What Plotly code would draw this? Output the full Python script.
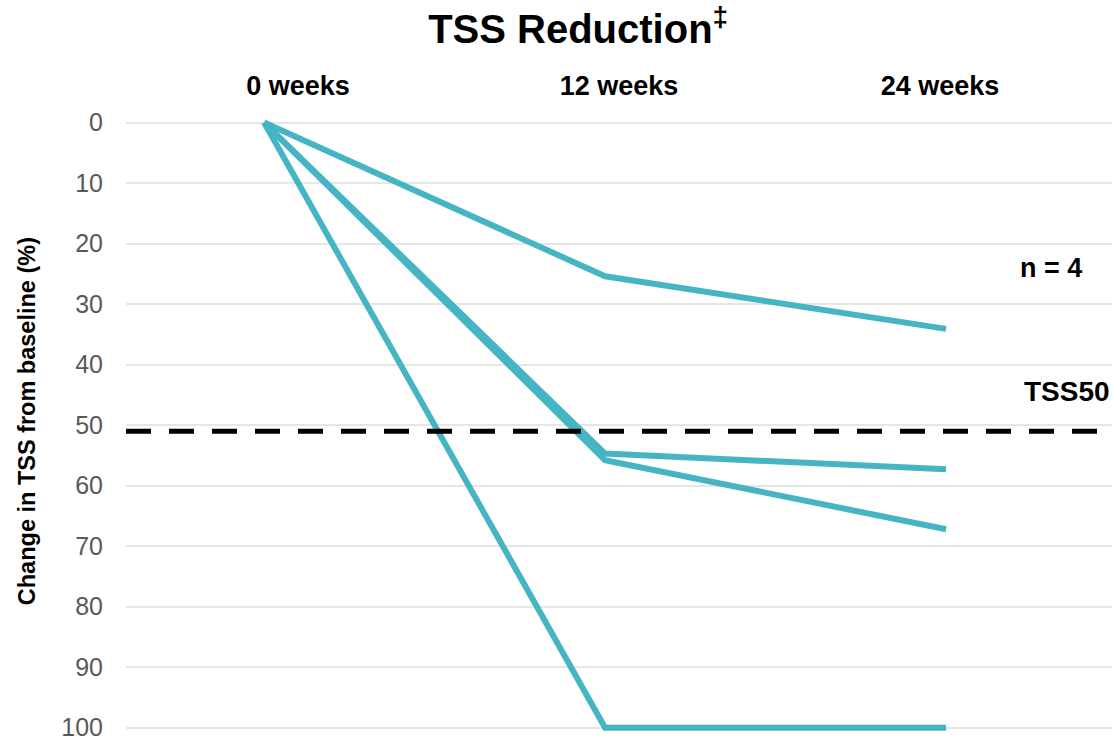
import plotly.graph_objects as go

# Study visits (weeks) and per-patient TSS change from baseline (%)
weeks = [0, 12, 24]
week_labels = ["0 weeks", "12 weeks", "24 weeks"]
patient_1 = [0, 25.4, 34.1]
patient_2 = [0, 54.7, 57.3]
patient_3 = [0, 55.8, 67.2]
patient_4 = [0, 100, 100]
patients = [patient_1, patient_2, patient_3, patient_4]

y_ticks = [0, 10, 20, 30, 40, 50, 60, 70, 80, 90, 100]
tss50_level = 51

LINE_COLOR = "#45B5C3"
FONT = "Liberation Sans, Arial, sans-serif"

fig = go.Figure()

for values in patients:
    fig.add_trace(go.Scatter(
        x=weeks, y=values, mode="lines",
        line=dict(color=LINE_COLOR, width=6),
        hoverinfo="skip", showlegend=False,
    ))

# TSS50 threshold across the full plot width
fig.add_shape(
    type="line", xref="paper", x0=0, x1=1, yref="y",
    y0=tss50_level, y1=tss50_level,
    line=dict(color="black", width=5, dash="25px,18px"),
)

fig.update_layout(
    width=1114, height=742,
    margin=dict(l=126, r=2, t=110, b=2),
    paper_bgcolor="white", plot_bgcolor="white",
    font=dict(family=FONT, color="black"),
    title=dict(
        text="<b>TSS Reduction<sup>‡</sup></b>",
        x=0.519, xref="container", xanchor="center",
        y=0.961, yref="container", yanchor="middle",
        font=dict(size=40, color="black", family=FONT),
    ),
    xaxis=dict(
        range=[-4.86, 29.84], visible=False, fixedrange=True,
    ),
    xaxis2=dict(
        overlaying="x", side="top", anchor="y",
        range=[-6.43, 30.43],
        tickmode="array", tickvals=weeks, ticktext=[f"<b>{t}</b>" for t in week_labels],
        tickfont=dict(size=27, color="black", family=FONT),
        showgrid=False, zeroline=False, showline=False, ticks="",
        ticklabelstandoff=9,
    ),
    yaxis=dict(
        range=[102.03, -2.07],
        tickmode="array", tickvals=y_ticks,
        tickfont=dict(size=25, color="#595959", family=FONT),
        showgrid=True, gridcolor="#E6E6E6", gridwidth=2,
        zeroline=False, showline=False, ticks="",
        ticklabelstandoff=22,
    ),
)

# Dummy trace so the top week axis is rendered
fig.add_trace(go.Scatter(
    x=weeks, y=[None] * len(weeks), xaxis="x2", yaxis="y",
    mode="lines", hoverinfo="skip", showlegend=False,
))

fig.add_annotation(
    text="<b>Change in TSS from baseline (%)</b>",
    xref="paper", yref="paper", x=-0.1004, y=0.506,
    xanchor="center", yanchor="middle", textangle=-90,
    showarrow=False, font=dict(size=23.5, color="black", family=FONT),
)
fig.add_annotation(
    text="<b>n = 4</b>", xref="paper", yref="paper",
    x=(1051 - 126) / 986, y=(740 - 268) / 630,
    xanchor="center", yanchor="middle", showarrow=False,
    font=dict(size=27, color="black", family=FONT),
)
fig.add_annotation(
    text="<b>TSS50</b>", xref="paper", yref="paper",
    x=1.0, y=(740 - 391) / 630,
    xanchor="right", yanchor="middle", showarrow=False,
    font=dict(size=28, color="black", family=FONT),
)

fig.write_html("out.html")
